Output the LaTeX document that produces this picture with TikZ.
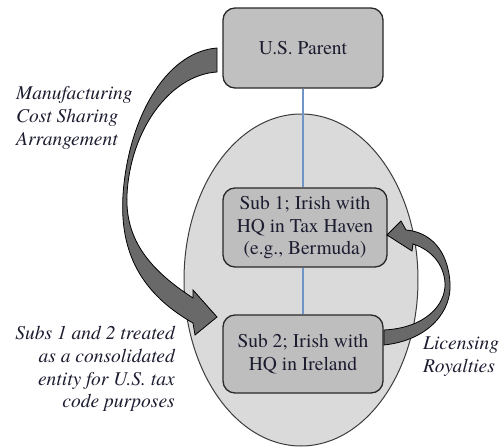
\documentclass[tikz,border=0pt]{standalone}
\usepackage{fontspec}
\setmainfont{texgyretermes}[Extension=.otf, UprightFont=*-regular, ItalicFont=*-italic, BoldFont=*-bold, BoldItalicFont=*-bolditalic]
\usetikzlibrary{shapes.geometric}
\definecolor{txt}{RGB}{28,28,48}
\definecolor{boxfill}{RGB}{192,192,192}
\definecolor{subfill}{RGB}{190,190,190}
\definecolor{ellfill}{RGB}{218,218,218}
\definecolor{boxline}{RGB}{40,40,40}
\definecolor{arrfill}{RGB}{105,105,105}
\definecolor{linkblue}{RGB}{110,148,200}
\tikzset{
  box/.style={draw=boxline, line width=1.3pt, rounded corners=12pt, fill=subfill,
    align=center, text=txt, inner sep=0pt, font=\fontsize{19.5}{22.5}\selectfont},
  group/.style={ellipse, draw={rgb,255:red,60;green,60;blue,60}, line width=1pt, fill=ellfill, inner sep=0pt},
  link/.style={draw=linkblue, line width=1.3pt},
  blockarrow/.style={fill=arrfill, draw=black, line width=0.8pt, line join=miter},
  note/.style={text=txt, inner sep=0pt, font=\fontsize{19.5}{22.8}\selectfont\itshape}
}
\begin{document}
\begin{tikzpicture}[x=1pt,y=-1pt]
\useasboundingbox (0,0) rectangle (499,447);
\fill[white] (0,0) rectangle (499,447);
% group ellipse
\node[group, minimum width=234pt, minimum height=332pt] (grp) at (301,280) {};
% boxes
\node[box, fill=boxfill, minimum width=160pt, minimum height=80pt] (parent) at (303,48) {U.S. Parent};
\node[box, minimum width=164pt, minimum height=79pt] (sub1) at (305,227.5) {Sub 1; Irish with\\HQ in Tax Haven\\(e.g., Bermuda)};
\node[box, minimum width=160pt, minimum height=78pt] (sub2) at (303,354) {Sub 2; Irish with\\HQ in Ireland};
% links
\draw[link] (parent.south) -- (sub1.north -| parent.south);
\draw[link] (sub1.south -| sub2.north) -- (sub2.north);
% left curved block arrow
\draw[blockarrow] (217,48) .. controls (165,52) and (128,120) .. (123,195)
  .. controls (120,245) and (135,290) .. (193,323) -- (195,335) -- (217,317) -- (193,290) -- (193,298)
  .. controls (150,270) and (125,240) .. (127,195)
  .. controls (130,130) and (170,75) .. (217,72) -- cycle;
% right curved block arrow
\draw[blockarrow] (384,345) .. controls (430,340) and (452,310) .. (450,283)
  .. controls (448,250) and (430,232) .. (406,230) -- (401,221) -- (387,235) -- (412,251) -- (413,244)
  .. controls (432,250) and (444,265) .. (445,283)
  .. controls (446,305) and (425,328) .. (384,330) -- cycle;
% notes
\node[note, anchor=north west, align=left] (mcsa) at (16,86) {Manufacturing\\Cost Sharing\\Arrangement};
\node[note, anchor=north east, align=right] (cons) at (175,326) {Subs 1 and 2 treated\\as a consolidated\\entity for U.S. tax\\code purposes};
\node[note, anchor=north west, align=left] (lic) at (423,337) {Licensing\\Royalties};
\end{tikzpicture}
\end{document}
